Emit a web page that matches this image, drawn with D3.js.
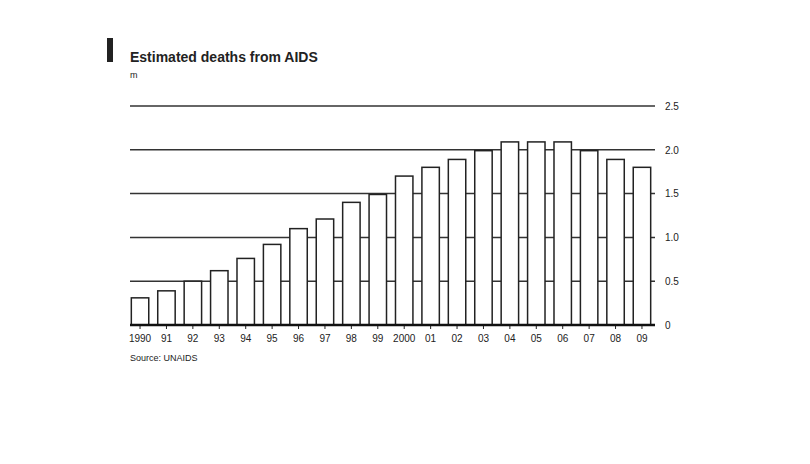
<!DOCTYPE html>
<html><head><meta charset="utf-8">
<script src="https://cdn.jsdelivr.net/npm/d3@7"></script>
<style>body{margin:0;background:#fff}svg{display:block}text{font-family:"Liberation Sans",Arial,sans-serif}</style>
</head><body><svg id="c" width="810" height="464"></svg>
<script>
const years = ["1990","91","92","93","94","95","96","97","98","99","2000","01","02","03","04","05","06","07","08","09"];
const deaths = [0.31,0.39,0.50,0.62,0.76,0.92,1.10,1.21,1.40,1.49,1.70,1.80,1.89,1.99,2.09,2.09,2.09,1.99,1.89,1.80];
const yTicks = [0,0.5,1.0,1.5,2.0,2.5];
const yTickLabels = ["0","0.5","1.0","1.5","2.0","2.5"];

(function(){
const svg = d3.select("#c");
const pL = 130, pR = 655, pT = 106, pB = 325;
const x = d3.scaleBand().domain(years).range([pL, 652]).paddingInner(0.34).paddingOuter(0.05);
const y = d3.scaleLinear().domain([0,2.5]).range([pB, pT]);

svg.append("rect").attr("x",107).attr("y",38).attr("width",6).attr("height",24).attr("fill","#222");
svg.append("text").attr("x",130).attr("y",62).attr("font-size",14).attr("font-weight","bold").attr("fill","#222").text("Estimated deaths from AIDS");
svg.append("text").attr("x",130).attr("y",78).attr("font-size",9).attr("fill","#222").text("m");

svg.append("g").selectAll("line").data(yTicks.filter(d=>d>0)).join("line")
  .attr("x1",pL).attr("x2",pR).attr("y1",d=>y(d)).attr("y2",d=>y(d))
  .attr("stroke","#333").attr("stroke-width",1.5);

const yAxis = d3.axisRight(y).tickValues(yTicks).tickFormat((d,i)=>yTickLabels[i]).tickSize(0).tickPadding(10);
const ga = svg.append("g").attr("transform",`translate(${pR},0)`).call(yAxis);
ga.select(".domain").remove();
ga.selectAll("text").attr("font-size",10).attr("fill","#222").style("font-family","Liberation Sans, Arial, sans-serif");

svg.append("g").selectAll("rect").data(deaths).join("rect")
  .attr("x",(d,i)=>x(years[i])).attr("width",x.bandwidth())
  .attr("y",d=>y(d)).attr("height",d=>y(0)-y(d))
  .attr("fill","#fff").attr("stroke","#222").attr("stroke-width",1.5);

const xAxis = d3.axisBottom(x).tickSize(4).tickPadding(6);
const gx = svg.append("g").attr("transform",`translate(0,${pB})`).call(xAxis);
gx.select(".domain").remove();
gx.selectAll("line").attr("stroke","#222");
gx.selectAll("text").attr("font-size",10).attr("fill","#222").style("font-family","Liberation Sans, Arial, sans-serif");
svg.append("line").attr("x1",pL).attr("x2",pR).attr("y1",pB).attr("y2",pB).attr("stroke","#111").attr("stroke-width",2.5);

svg.append("text").attr("x",130).attr("y",361).attr("font-size",9).attr("fill","#222").text("Source: UNAIDS");
})();
</script></body></html>
